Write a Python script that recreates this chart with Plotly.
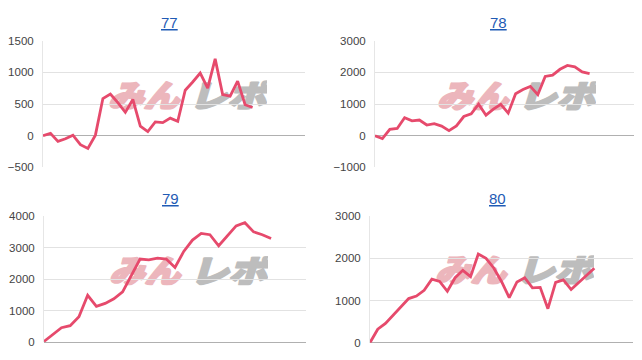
import base64
import plotly.graph_objects as go

W, H = 642, 360

titles = ["77", "78", "79", "80"]
s77 = [0, 39, -88, -47, 10, -140, -200, 10, 588, 660, 523, 370, 573, 151, 65,
       218, 207, 279, 230, 720, 850, 990, 752, 1215, 650, 625, 862, 490, 446]
s78 = [0, -90, 200, 230, 567, 470, 496, 340, 380, 305, 160, 313, 608, 690, 1000,
       650, 840, 995, 715, 1330, 1460, 1560, 1300, 1875, 1915, 2100, 2220, 2180, 2020, 1965]
s79 = [30, 260, 465, 530, 810, 1490, 1140, 1235, 1380, 1600, 2120, 2640, 2610, 2670,
       2640, 2370, 2880, 3240, 3450, 3410, 3060, 3360, 3690, 3790, 3500, 3410, 3290]
s80 = [0, 320, 455, 650, 835, 1045, 1105, 1240, 1505, 1450, 1218, 1540, 1715, 1565,
       2100, 2000, 1770, 1450, 1067, 1440, 1540, 1300, 1310, 805, 1430, 1490, 1260,
       1430, 1580, 1765]
series = [s77, s78, s79, s80]
y_ranges = [[-500, 1500], [-1000, 3000], [0, 4000], [0, 3000]]
y_dticks = [500, 1000, 1000, 1000]
x_ranges = [[0, 35], [0, 35], [0, 30], [0, 34]]

LINE = "#E64A6C"


def px(x):
    return x / W


def py(y):
    return 1 - y / H


# layout geometry (pixels)
xdoms = [(43, 305), (375, 634), (44, 306), (370, 633)]
ydoms = [(36, 167), (36, 167), (217.3, 348), (217.3, 348.3)]
title_pos = [(170, 17), (498, 17), (171, 199), (497, 199)]
wm_box = [(107, 77), (436, 78), (108, 259), (434, 258)]  # top-left of watermark

WM_W, WM_H = 160, 30
svg = (
    "<svg xmlns='http://www.w3.org/2000/svg' width='160' height='30' viewBox='0 0 160 30'>"
    "<g transform='skewX(-16)' font-family='Noto Sans CJK JP, Noto Sans CJK SC, sans-serif' "
    "font-weight='900' font-size='33'>"
    "<text x='9' y='28' fill='#ecb6bc' stroke='#ecb6bc' stroke-width='2.2' stroke-linejoin='round' "
    "textLength='71' lengthAdjust='spacingAndGlyphs'>みん</text>"
    "<text x='90' y='28' fill='#bdbdbd' stroke='#bdbdbd' stroke-width='2.2' stroke-linejoin='round' "
    "textLength='77' lengthAdjust='spacingAndGlyphs'>レポ</text>"
    "</g></svg>"
)
wm_src = "data:image/svg+xml;base64," + base64.b64encode(svg.encode("utf-8")).decode()

fig = go.Figure()
layout = dict(
    width=W, height=H, margin=dict(l=0, r=0, t=0, b=0),
    paper_bgcolor="white", plot_bgcolor="rgba(0,0,0,0)", showlegend=False,
    font=dict(family="Arial, Liberation Sans, sans-serif", color="#444"),
)
annotations = []
images = []
for i, ys in enumerate(series):
    ax = "" if i == 0 else str(i + 1)
    fig.add_trace(go.Scatter(
        x=list(range(len(ys))), y=ys, mode="lines",
        line=dict(color=LINE, width=2.8),
        xaxis="x" + ax, yaxis="y" + ax, hoverinfo="skip"))
    x0, x1 = xdoms[i]
    y0, y1 = ydoms[i]
    layout["xaxis" + ax] = dict(domain=[px(x0), px(x1)], range=x_ranges[i],
                                visible=False, anchor="y" + ax, fixedrange=True)
    layout["yaxis" + ax] = dict(
        domain=[py(y1), py(y0)], range=y_ranges[i], dtick=y_dticks[i],
        anchor="x" + ax, showgrid=True, gridcolor="#e2e2e2", gridwidth=1,
        zeroline=True, zerolinecolor="#b0b0b0", zerolinewidth=1,
        showline=True, linecolor="#e6e6e6", linewidth=1,
        ticks="", ticklabelstandoff=6,
        tickfont=dict(size=11.5, color="#444"), fixedrange=True)
    tx, ty = title_pos[i]
    annotations.append(dict(
        text="<u>" + titles[i] + "</u>", x=px(tx), y=py(ty), xref="paper", yref="paper",
        showarrow=False, xanchor="center", yanchor="middle",
        font=dict(size=15, color="#1f5bb5", family="Arial, Liberation Sans, sans-serif")))
    bx, by = wm_box[i]
    images.append(dict(
        source=wm_src, xref="paper", yref="paper", x=px(bx), y=py(by),
        sizex=WM_W / W, sizey=WM_H / H, xanchor="left", yanchor="top",
        sizing="stretch", layer="below"))

layout["annotations"] = annotations
layout["images"] = images
fig.update_layout(**layout)
fig.write_html("out.html")
